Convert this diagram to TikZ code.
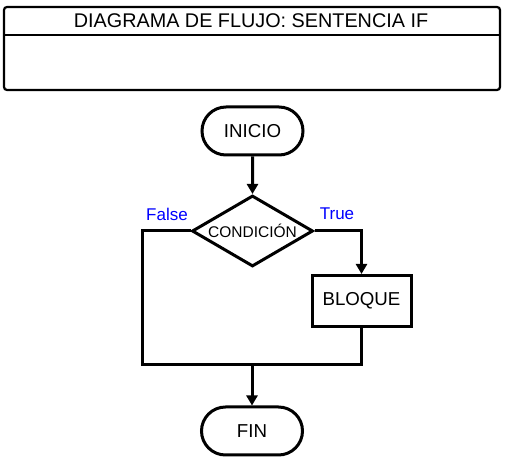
\documentclass[tikz,border=0pt]{standalone}
\usepackage{fontspec}
\setmainfont{Liberation Sans}
\usetikzlibrary{shapes.misc,shapes.geometric,arrows.meta}
\begin{document}
\begin{tikzpicture}[x=1pt,y=-1pt,
  shapeline/.style={draw=black,line width=3pt},
  terminal/.style={shapeline,rounded rectangle,minimum width=101pt,minimum height=48pt,inner sep=0pt,font=\fontsize{18.7}{20}\selectfont},
  decision/.style={shapeline,diamond,aspect=1.7,minimum width=121pt,minimum height=71pt,inner sep=0pt,font=\fontsize{15.5}{16}\selectfont},
  process/.style={shapeline,rectangle,minimum width=99pt,minimum height=51pt,inner sep=0pt,font=\fontsize{18.7}{20}\selectfont},
  conn/.style={draw=black,line width=3pt,line join=miter},
  arr/.style={conn,-{Triangle[width=11pt,length=10pt]}},
  branch/.style={text=blue,font=\fontsize{17}{18}\selectfont,inner sep=0pt},
  titletext/.style={font=\fontsize{19.8}{21}\selectfont,inner sep=0pt}
]
\useasboundingbox (0,0) rectangle (507,462);
% title box
\draw[line width=2.2pt,rounded corners=3pt] (4,7) rectangle (500,90);
\draw[line width=2.2pt] (4,35) -- (500,35);
\node[titletext] (title) at (251,21) {DIAGRAMA DE FLUJO: SENTENCIA IF};
% nodes
\node[terminal] (inicio) at (252.5,131) {INICIO};
\node[decision] (cond) at (252.5,231) {CONDICIÓN};
\node[process] (bloque) at (361.5,301) {BLOQUE};
\node[terminal] (fin) at (252,431) {FIN};
\node[branch] (false) at (167,214) {False};
\node[branch] (true) at (337,214) {True};
% connector coordinates
\coordinate (lc) at (142,365);
\coordinate (rc) at (361.5,365);
\coordinate (merge) at (252,365);
% connectors
\draw[arr] (inicio) -- (cond);
\draw[arr] (cond.east) -| (bloque.north);
\draw[conn] (cond.west) -| (lc) -- (rc) -- (bloque.south);
\draw[arr] (merge) -- (fin.north);
\end{tikzpicture}
\end{document}
